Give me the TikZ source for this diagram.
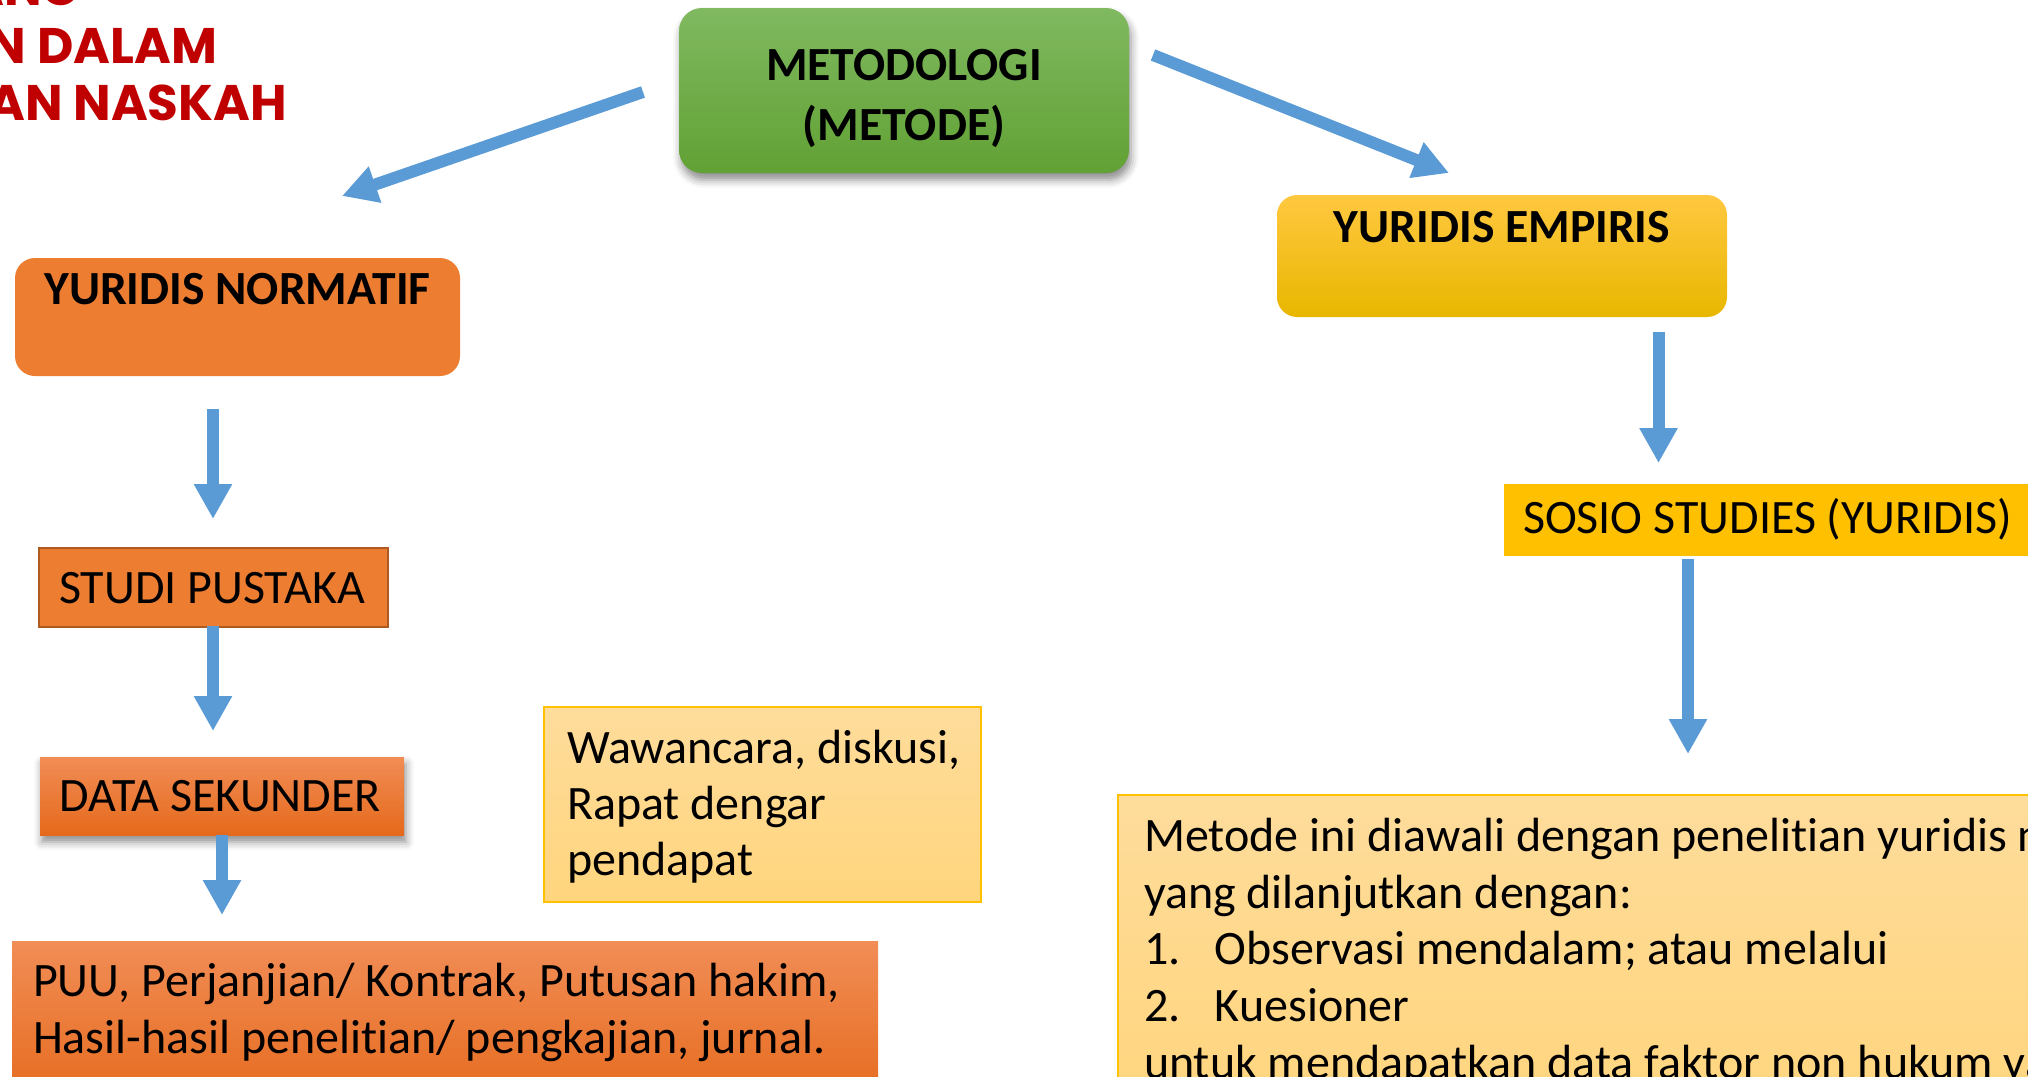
\documentclass[tikz,border=0pt]{standalone}
\usepackage{fontspec}
\setmainfont{Carlito}[Ligatures={NoCommon}]
\newfontfamily\comicfont{Poppins}
\usetikzlibrary{arrows.meta,shadows.blur}

\definecolor{flowblue}{HTML}{5B9BD5}
\definecolor{grntop}{RGB}{128,185,96}
\definecolor{grnbot}{RGB}{97,161,52}
\definecolor{yeltop}{RGB}{255,200,64}
\definecolor{yelmid}{RGB}{255,192,0}
\definecolor{yelbot}{RGB}{232,183,0}
\definecolor{orflat}{HTML}{ED7D31}
\definecolor{ordark}{HTML}{AE5A21}
\definecolor{ortop}{RGB}{241,141,86}
\definecolor{orbot}{RGB}{229,105,27}
\definecolor{lighttop}{RGB}{254,220,155}
\definecolor{lightbot}{RGB}{255,213,125}
\definecolor{goldline}{HTML}{FFC000}
\definecolor{titlered}{HTML}{C00000}

\begin{document}
\begin{tikzpicture}[x=0.5pt,y=-0.5pt,
  panel/.style={rectangle,inner sep=0pt,outer sep=0pt},
  % multi-line texts are placed by the baseline of their last line
  bodytext/.style={inner sep=0pt,outer sep=0pt,align=left,anchor=base west,
    font=\fontsize{24}{28.3}\selectfont},
  headtext/.style={inner sep=0pt,outer sep=0pt,anchor=base,
    font=\fontsize{23.8}{30}\selectfont\bfseries},
  plainhead/.style={inner sep=0pt,outer sep=0pt,anchor=base,
    font=\fontsize{24}{28}\selectfont},
  titletext/.style={inner sep=0pt,outer sep=0pt,anchor=base east,text=titlered,
    font=\comicfont\fontsize{25}{28.5}\selectfont\bfseries},
  flow/.style={draw=flowblue,line width=6pt,
    -{Triangle[length=17.5pt,width=18pt]}},
  softshadow/.style={blur shadow={shadow xshift=1pt,shadow yshift=-3.5pt,
    shadow blur radius=4pt,shadow opacity=45}}]

\useasboundingbox (0,0) rectangle (2028,1076);
\clip (0,0) rectangle (2028,1076);

% heading in the upper left corner
\node[titletext] (ttl1) at (80,5) {YANG};
\node[titletext] (ttl2) at (217,63) {KAN DALAM};
\node[titletext] (ttl3) at (287,120) {SUNAN NASKAH};

% top box
\node[panel,rounded corners=11.5pt,top color=grntop,bottom color=grnbot,
  softshadow,minimum width=225pt,minimum height=82.5pt] (meto) at (904,90.5) {};
\node[headtext] (metoA) at (904,80) {METODOLOGI};
\node[headtext] (metoB) at (904,140) {(METODE)};

% left branch
\node[panel,rounded corners=10pt,fill=orflat,
  minimum width=222.5pt,minimum height=59pt] (normatif) at (237.5,317) {};
\node[headtext] (normatifT) at (237.5,304) {YURIDIS NORMATIF};

\node[panel,fill=orflat,draw=ordark,line width=1pt,
  minimum width=174.5pt,minimum height=39.5pt] (pustaka) at (213.5,587.5) {};
\node[plainhead] (pustakaT) at (212,603) {STUDI PUSTAKA};

\node[panel,top color=ortop,bottom color=orbot,softshadow,
  minimum width=182pt,minimum height=39pt] (sekunder) at (222,796) {};
\node[plainhead] (sekunderT) at (220,811) {DATA SEKUNDER};

\node[panel,top color=ortop,bottom color=orbot,
  minimum width=433pt,minimum height=84.5pt] (puu) at (445,1025.5) {};
\node[bodytext,font=\fontsize{24}{28.5}\selectfont] (puuT) at (33,1053)
  {PUU, Perjanjian/ Kontrak, Putusan hakim,\\Hasil-hasil penelitian/ pengkajian, jurnal.};

% note box in the middle
\node[panel,top color=lighttop,bottom color=lightbot,draw=goldline,line width=1pt,
  minimum width=218.5pt,minimum height=97.5pt] (wawan) at (762.5,804.5) {};
\node[bodytext,font=\fontsize{24}{28}\selectfont] (wawanT) at (567,875)
  {Wawancara, diskusi,\\Rapat dengar\\pendapat};

% right branch
\node[panel,rounded corners=10pt,top color=yeltop,middle color=yelmid,bottom color=yelbot,
  minimum width=225pt,minimum height=61pt] (empiris) at (1502,256) {};
\node[headtext] (empirisT) at (1502,242) {YURIDIS EMPIRIS};

\node[panel,fill=yelmid,minimum width=273pt,minimum height=36pt] (sosio) at (1777,520) {};
\node[bodytext] (sosioT) at (1523,533) {SOSIO STUDIES (YURIDIS)};

\node[panel,top color=lighttop,bottom color=lightbot,draw=goldline,line width=1pt,
  minimum width=466pt,minimum height=157.5pt] (metode) at (1584,952.5) {};
\node[bodytext] (metodeT) at (1144,1078)
  {Metode ini diawali dengan penelitian yuridis normatif\\
   yang dilanjutkan dengan:\\
   \makebox[35.5pt][l]{1.}Observasi mendalam; atau melalui\\
   \makebox[35.5pt][l]{2.}Kuesioner\\
   untuk mendapatkan data faktor non hukum yang};

% arrow end points
\coordinate (m2nS) at (643,92);   \coordinate (m2nE) at (342,196);
\coordinate (m2eS) at (1153,55);  \coordinate (m2eE) at (1449,173);
\coordinate (n2pS) at (213,409);  \coordinate (n2pE) at (213,519);
\coordinate (p2dS) at (213,626);  \coordinate (p2dE) at (213,731);
\coordinate (d2uS) at (222,835);  \coordinate (d2uE) at (222,915);
\coordinate (e2sS) at (1658.5,332); \coordinate (e2sE) at (1658.5,463);
\coordinate (s2mS) at (1688,559); \coordinate (s2mE) at (1688,754);

\draw[flow] (m2nS) -- (m2nE);
\draw[flow] (m2eS) -- (m2eE);
\draw[flow] (n2pS) -- (n2pE);
\draw[flow] (p2dS) -- (p2dE);
\draw[flow] (d2uS) -- (d2uE);
\draw[flow] (e2sS) -- (e2sE);
\draw[flow] (s2mS) -- (s2mE);
\end{tikzpicture}
\end{document}
